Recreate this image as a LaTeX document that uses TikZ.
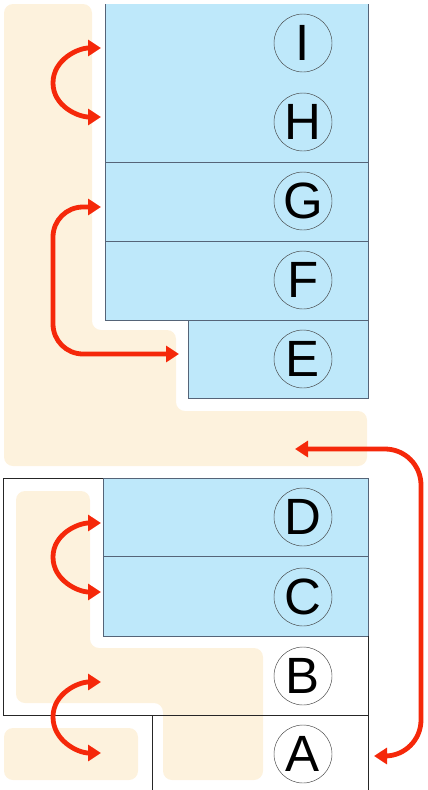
\documentclass[tikz,border=0pt]{standalone}
\usepackage{fontspec}
\setmainfont{Liberation Sans}
\usetikzlibrary{arrows.meta}
\definecolor{beige}{RGB}{253,242,221}
\definecolor{skyb}{RGB}{190,232,250}
\definecolor{edgeb}{RGB}{85,100,120}
\definecolor{redarr}{RGB}{245,40,10}
\tikzset{
  beigezone/.style={fill=beige, rounded corners=9pt},
  bluebox/.style={fill=skyb},
  boxedge/.style={draw=edgeb, line width=0.9pt},
  frameline/.style={draw=black!85, line width=0.8pt},
  letter/.style={circle, draw=black!75, line width=0.45pt, minimum size=58pt, inner sep=0pt,
    font=\fontsize{51}{51}\selectfont},
  arr/.style={draw=redarr, line width=4.8pt, {Triangle[length=13pt,width=16pt]}-{Triangle[length=13pt,width=16pt]}},
}
\begin{document}
\begin{tikzpicture}[x=1pt,y=-1pt]
\useasboundingbox (0,0) rectangle (428,790);
% beige zones
\path[beigezone] (4,4) -- (92,4) -- (92,330) -- (176,330) -- (176,411) -- (367,411) -- (367,466) -- (4,466) -- cycle;
\path[beigezone] (16,491) -- (90,491) -- (90,648) -- (263,648) -- (263,780) -- (163,780) -- (163,703) -- (16,703) -- cycle;
\path[beigezone] (4,728) rectangle (138,780);
% blue boxes (top)
\fill[bluebox] (105,4) rectangle (368,320);
\fill[bluebox] (188,320) rectangle (368,398);
\draw[boxedge] (105,4) -- (105,320) -- (368,320);
\draw[boxedge] (188,320) -- (188,398) -- (368,398) -- (368,4);
\draw[boxedge] (105,162) -- (368,162);
\draw[boxedge] (105,241) -- (368,241);
% bottom frame
\fill[bluebox] (103,478) rectangle (368,636);
\draw[boxedge] (103,478) rectangle (368,636);
\draw[boxedge] (103,556) -- (368,556);
\draw[frameline] (103,478) -- (3,478) -- (3,715) -- (368,715);
\draw[frameline] (368,636) -- (368,790);
\draw[frameline] (152,715) -- (152,790);
% letters
\node[letter] (I) at (303,43) {I};
\node[letter] (H) at (303,122) {H};
\node[letter] (G) at (303,201) {G};
\node[letter] (F) at (303,280) {F};
\node[letter] (E) at (303,359) {E};
\node[letter] (D) at (303,517) {D};
\node[letter] (C) at (303,597) {C};
\node[letter] (B) at (303,676) {B};
\node[letter] (A) at (303,754) {A};
% arrow end points
\coordinate (aI) at (101,48);
\coordinate (aH) at (101,117);
\coordinate (aG) at (101,207);
\coordinate (aE) at (179,354);
\coordinate (aBand) at (295,449);
\coordinate (aA) at (374,756);
\coordinate (aD) at (101,523);
\coordinate (aC) at (101,592);
\coordinate (aB) at (101,682);
\coordinate (aA2) at (101,753);
% arrows
\draw[arr] (aI) to[out=180,in=90] (53,83) to[out=-90,in=180] (aH);
\draw[arr] (aD) to[out=180,in=90] (53,557) to[out=-90,in=180] (aC);
\draw[arr] (aB) to[out=180,in=90] (53,717) to[out=-90,in=180] (aA2);
\draw[arr, rounded corners=30pt] (aG) -| (53,354) -- (aE);
\draw[arr, rounded corners=36pt] (aBand) -| (421,756) -- (aA);
\end{tikzpicture}
\end{document}
